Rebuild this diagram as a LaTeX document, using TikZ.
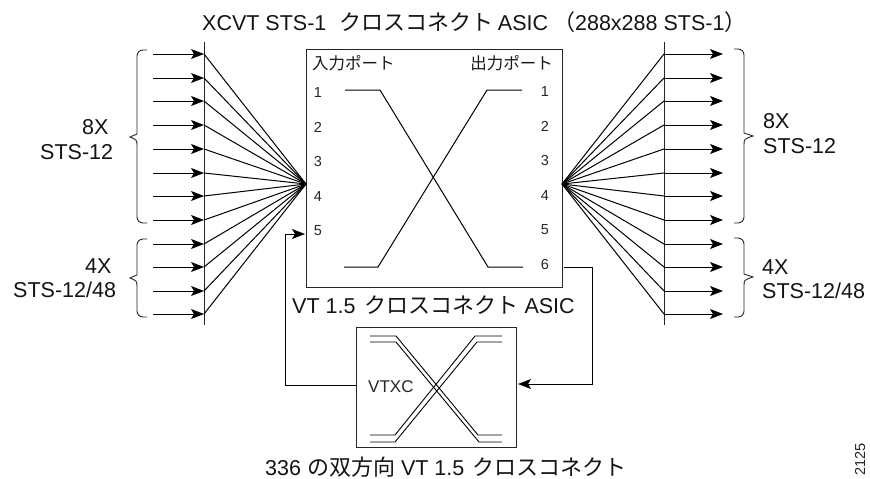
\documentclass[tikz,border=0pt]{standalone}
\usepackage{fontspec}
\setmainfont{Liberation Sans}
\newfontfamily\jp{Noto Sans CJK JP}
\usetikzlibrary{arrows.meta}
\newcommand{\kn}[1]{{\fontsize{22}{22}\selectfont\jp #1}}
\tikzset{
  x=1pt,y=-1pt,
  wire/.style={line width=1pt,draw=black},
  thinwire/.style={line width=0.9pt,draw=black},
  tipped/.style={wire,-{Stealth[length=13pt,width=10pt,inset=3pt]}},
  frame/.style={line width=1pt,draw=black!85},
  txt/.style={inner sep=0pt,font=\fontsize{21.5}{21.5}\selectfont,text=black!92},
  small/.style={inner sep=0pt,font=\fontsize{14.5}{14.5}\selectfont,text=black!85},
  jpsmall/.style={inner sep=0pt,font=\fontsize{16.5}{16.5}\selectfont\jp,text=black!90},
  brace/.style={line width=0.9pt,draw=black!85}
}
\newcommand{\mybrace}[6]{% end x, spine x, tip x, top y, tip y, bottom y
  \draw[brace] (#1,#4) [rounded corners=6pt] -- (#2,#4) -- (#2,#5-9) [sharp corners]
    .. controls (#2,#5-3) .. (#3,#5) .. controls (#2,#5+3) .. (#2,#5+9)
    [rounded corners=6pt] -- (#2,#6) -- (#1,#6);}
\begin{document}
\begin{tikzpicture}
\useasboundingbox (0,0) rectangle (870,479);
\node[frame,minimum width=255.5pt,minimum height=238.5pt,inner sep=0pt] (asic) at (434.5,168.5) {};
\node[frame,minimum width=160pt,minimum height=120pt,inner sep=0pt] (vtxc) at (436,387) {};
\coordinate (lc) at (306,184);
\coordinate (rc) at (562,184);
\coordinate (lt) at (204,42); \coordinate (lb) at (204,325);
\coordinate (rt) at (664,42); \coordinate (rb) at (664,325);
\draw[frame] (lt) -- (lb);
\draw[frame] (rt) -- (rb);
\foreach \y in {54,78,101,125,149,173,196,220,244,267,291,314}{
  \coordinate (ls) at (153,\y); \coordinate (le) at (204,\y);
  \coordinate (rs) at (664,\y); \coordinate (re) at (723,\y);
  \draw[tipped] (ls) -- (le);
  \draw[wire] (le) -- (lc);
  \draw[tipped] (rs) -- (re);
  \draw[wire] (rs) -- (rc);
}
\mybrace{147}{137}{130}{50}{137}{223}
\mybrace{147}{137}{130}{239}{278}{317}
\mybrace{734}{744}{753}{49}{136}{223}
\mybrace{734}{744}{753}{238}{277}{317}
% asic wires
\draw[wire] (345,90) -- (380,90) -- (488,267) -- (523,267);
\draw[wire] (344,267) -- (378,267) -- (487,90) -- (522,90);
% feedback
\coordinate (c6) at (564,267); \coordinate (c6b) at (592,267); \coordinate (c6c) at (592,384);
\coordinate (v1) at (285,385); \coordinate (v2) at (285,234); \coordinate (in5) at (305,234);
\coordinate (vin) at (518,384);
\draw[tipped] (c6) -- (c6b) -- (c6c) -- (vin);
\draw[tipped] (vtxc.west |- v1) -- (v1) -- (v2) -- (in5);
% vtxc
\draw[thinwire] (370,336) -- (396,336) -- (478,435) -- (502,435);
\draw[thinwire] (370,342) -- (396,342) -- (479,442) -- (502,442);
\draw[thinwire] (370,435) -- (395,435) -- (475,336) -- (502,336);
\draw[thinwire] (370,442) -- (395,442) -- (477,342) -- (502,342);
% texts
\node[txt,anchor=west] (title) at (202,22) {XCVT STS-1\hspace{13pt}\kn{クロスコネクト}\hspace{4.5pt}ASIC\hspace{5pt}\kn{（}288x288 STS-1\kn{）}};
\node[txt,anchor=west] (t2) at (292,305) {VT 1.5\hspace{9pt}\kn{クロスコネクト}\hspace{6pt}ASIC};
\node[txt,anchor=west] (t3) at (265,467) {336 \kn{の双方向} VT 1.5\hspace{8pt}\kn{クロスコネクト}};
\node[txt,anchor=west] (a) at (82,127) {8X};
\node[txt,anchor=west] (b) at (40,152) {STS-12};
\node[txt,anchor=west] (c) at (85,266) {4X};
\node[txt,anchor=west] (d) at (13,290) {STS-12/48};
\node[txt,anchor=west] (e) at (763,121) {8X};
\node[txt,anchor=west] (f) at (763,146) {STS-12};
\node[txt,anchor=west] (g) at (762,267) {4X};
\node[txt,anchor=west] (h) at (762,291) {STS-12/48};
\node[inner sep=0pt,font=\fontsize{17}{17}\selectfont,text=black!85,anchor=west] (vt) at (368,387) {VTXC};
\node[jpsmall,anchor=west] (ip) at (312,63) {入力ポート};
\node[jpsmall,anchor=east] (op) at (553,63) {出力ポート};
\foreach \n/\y in {1/93,2/127,3/162,4/197,5/231}{\node[small] (p\n) at (318,\y) {\n};}
\foreach \n/\y in {1/92,2/126,3/161,4/196,5/230,6/265}{\node[small] (q\n) at (545,\y) {\n};}
\node[small,rotate=90,anchor=east] (idt) at (860,443) {2125};
\end{tikzpicture}
\end{document}
